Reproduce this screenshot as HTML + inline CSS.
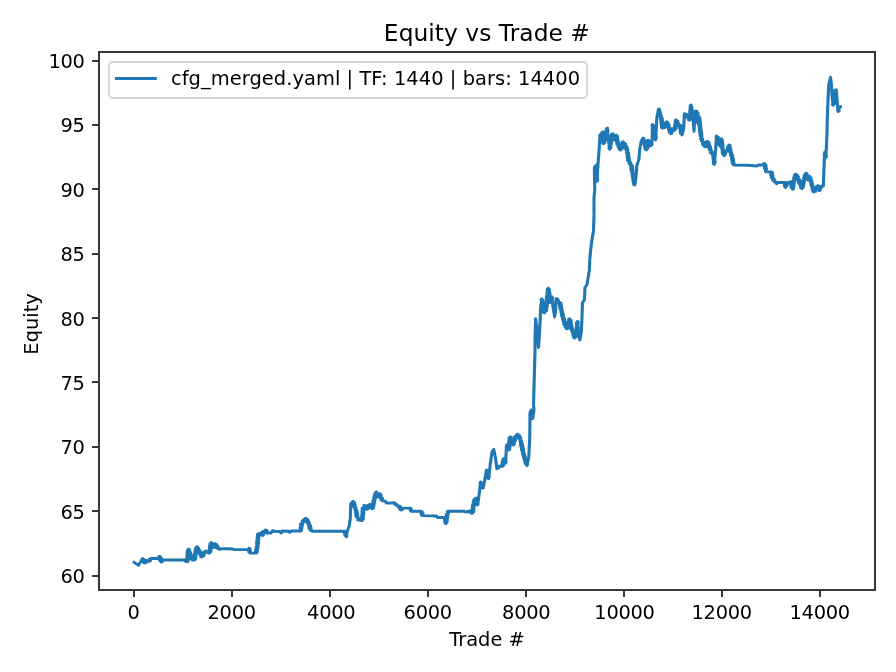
<!DOCTYPE html>
<html lang="en"><head><meta charset="utf-8"><title>Equity vs Trade #</title>
<style>
html,body{margin:0;padding:0;background:#fff;}
body{width:896px;height:672px;overflow:hidden;}
svg{display:block;}
text{font-family:"DejaVu Sans", "Liberation Sans", sans-serif;fill:#000;}
.t10{font-size:19.444px;}
.tk{letter-spacing:-0.3px;}
.t12{font-size:23.333px;}
</style></head>
<body>
<svg width="896" height="672" viewBox="0 0 896 672">
<rect x="0" y="0" width="896" height="672" fill="#ffffff"/>
<clipPath id="ax"><rect x="99" y="52" width="776" height="538"/></clipPath>
<path d="M134.19 562.31 L134.91 562.83 L135.62 563.35 L136.34 563.88 L137.06 564.40 L137.78 564.92 L138.50 565.44 L138.91 564.74 L139.31 564.04 L139.72 563.34 L140.12 562.64 L140.53 561.94 L140.94 561.24 L141.34 560.54 L141.75 559.84 L142.16 559.14 L142.56 558.44 L142.01 559.65 L144.19 559.58 L142.90 561.13 L144.91 561.15 L143.57 562.72 L144.75 563.12 L144.58 561.87 L146.54 562.39 L145.61 560.51 L146.94 560.50 L147.54 561.45 L148.81 560.48 L149.44 561.38 L150.51 560.68 L149.57 559.12 L150.69 558.44 L158.50 558.44 L159.75 558.30 L158.84 556.53 L160.06 556.38 L159.28 557.34 L161.40 557.82 L159.39 558.99 L161.59 559.46 L159.67 560.61 L161.91 561.08 L161.00 562.06 L162.21 561.86 L161.11 560.25 L162.25 560.00 L185.62 560.00 L185.41 561.28 L187.45 560.61 L187.25 561.88 L188.24 561.15 L186.51 560.19 L188.39 559.54 L186.58 558.57 L188.50 557.93 L186.77 556.97 L188.69 556.32 L186.75 555.35 L188.87 554.72 L187.05 553.75 L188.92 553.10 L187.15 552.14 L189.04 551.49 L187.36 550.53 L189.27 549.89 L188.38 549.00 L189.43 549.53 L187.96 550.86 L190.01 551.08 L188.40 552.45 L190.61 552.62 L188.91 554.02 L191.09 554.19 L189.49 555.57 L191.59 555.77 L190.00 557.14 L192.06 557.34 L190.50 558.71 L192.53 558.93 L191.88 560.00 L194.38 560.00 L195.34 559.31 L193.76 558.22 L195.85 557.71 L194.03 556.58 L196.04 556.06 L194.18 554.92 L196.32 554.42 L194.49 553.28 L196.55 552.78 L194.87 551.66 L196.67 551.11 L195.10 550.02 L196.96 549.47 L195.39 548.38 L197.22 547.83 L196.50 546.88 L197.77 547.06 L196.63 548.74 L198.74 548.41 L197.39 550.22 L199.51 549.88 L198.26 551.63 L200.32 551.32 L200.00 552.50 L199.38 553.70 L201.66 553.50 L200.14 555.14 L202.28 555.00 L200.82 556.61 L202.12 556.88 L201.62 555.60 L203.84 555.73 L202.40 553.97 L204.66 554.12 L203.35 552.44 L205.46 552.50 L205.00 551.25 L207.50 551.25 L208.81 551.20 L208.44 553.17 L209.75 553.12 L208.83 552.19 L210.98 551.61 L208.95 550.55 L211.19 549.98 L209.26 548.92 L211.17 548.32 L209.47 547.29 L211.59 546.71 L209.58 545.65 L211.66 545.06 L209.86 544.02 L211.78 543.42 L211.00 542.50 L212.12 543.04 L210.79 544.45 L212.89 544.65 L211.22 546.16 L213.27 546.38 L212.75 547.50 L214.03 547.27 L213.05 545.53 L214.98 545.74 L213.90 543.93 L215.25 543.75 L214.79 544.96 L216.90 544.70 L215.70 546.34 L217.76 546.11 L216.36 547.86 L218.53 547.56 L218.12 548.75 L220.00 549.38 L221.25 548.75 L228.00 548.75 L228.00 548.75 L233.00 549.00 L234.25 549.62 L248.00 549.38 L249.16 549.28 L249.00 548.12 L249.97 548.81 L248.46 549.94 L250.51 550.44 L248.62 551.63 L250.77 552.11 L249.88 553.12 L256.12 553.12 L257.11 552.45 L255.49 551.36 L257.50 550.84 L255.57 549.71 L257.66 549.20 L256.04 548.12 L258.05 547.60 L256.23 546.49 L258.27 545.97 L257.38 545.00 L256.58 544.12 L258.53 543.48 L256.54 542.50 L258.68 541.88 L256.81 540.90 L258.82 540.27 L257.02 539.30 L258.85 538.65 L257.08 537.68 L259.15 537.06 L257.30 536.08 L259.29 535.45 L257.26 534.46 L258.38 533.75 L261.12 533.12 L260.56 534.45 L262.79 534.38 L262.38 535.62 L263.47 534.99 L262.02 533.63 L264.14 533.29 L262.33 531.83 L263.62 531.25 L265.13 531.47 L265.50 530.00 L266.58 530.16 L265.95 531.69 L267.64 531.36 L266.85 533.02 L268.00 533.12 L271.12 533.12 L271.22 532.00 L272.67 531.76 L272.75 530.62 L274.88 531.25 L279.25 531.50 L280.46 531.92 L280.88 533.12 L281.83 532.74 L281.48 531.43 L282.38 531.00 L288.62 531.25 L289.22 531.98 L290.12 532.25 L290.39 531.44 L291.12 531.00 L300.50 531.00 L301.60 530.28 L299.94 529.12 L301.96 528.54 L300.10 527.35 L302.22 526.79 L300.46 525.61 L302.55 525.05 L300.59 523.84 L301.75 523.12 L303.04 523.10 L302.21 521.06 L304.36 521.84 L303.48 519.76 L305.48 520.40 L304.89 518.58 L306.12 518.50 L305.61 519.72 L307.71 519.54 L306.44 521.16 L308.45 521.03 L307.11 522.69 L309.32 522.45 L307.93 524.14 L309.25 524.38 L310.26 524.96 L308.69 526.16 L310.63 526.52 L308.96 527.75 L311.11 528.06 L309.55 529.26 L311.39 529.65 L310.75 530.62 L313.00 531.25 L336.00 531.25 L336.00 531.25 L344.75 531.25 L344.02 532.30 L346.00 532.64 L344.55 533.89 L346.52 534.22 L344.89 535.52 L346.99 535.82 L346.25 536.88 L346.59 536.11 L346.35 535.24 L346.87 534.50 L346.65 533.63 L347.14 532.89 L346.90 532.02 L347.25 531.25 L347.72 530.48 L347.71 529.52 L348.35 528.81 L348.32 527.85 L348.97 527.14 L349.12 526.25 L349.07 525.43 L349.54 524.69 L349.29 523.84 L349.78 523.10 L349.49 522.24 L350.00 521.51 L349.72 520.65 L350.22 519.91 L349.98 519.07 L350.45 518.32 L350.38 517.50 L350.21 516.69 L350.62 515.89 L350.27 515.07 L350.64 514.27 L350.28 513.45 L350.69 512.65 L350.34 511.83 L350.77 511.04 L350.39 510.22 L350.77 509.42 L350.41 508.60 L350.84 507.80 L350.46 506.98 L350.85 506.18 L350.52 505.36 L350.89 504.56 L350.75 503.75 L351.25 503.00 L352.14 502.64 L352.51 501.76 L353.25 501.25 L352.56 502.24 L354.69 502.56 L352.75 503.85 L354.93 504.15 L353.19 505.40 L355.35 505.70 L353.64 506.94 L354.75 507.50 L356.12 507.86 L354.80 509.56 L356.00 510.00 L357.18 510.66 L355.45 511.80 L357.47 512.33 L355.56 513.50 L357.63 514.01 L355.84 515.17 L357.91 515.68 L356.09 516.84 L357.25 517.50 L358.56 517.82 L357.73 519.75 L359.12 520.00 L362.25 520.62 L361.25 519.72 L363.45 519.07 L361.55 518.10 L363.39 517.41 L361.49 516.44 L363.54 515.77 L361.85 514.82 L363.77 514.14 L361.88 513.17 L363.90 512.50 L361.98 511.53 L363.96 510.85 L362.13 509.89 L364.03 509.21 L362.12 508.24 L363.25 507.50 L364.63 507.63 L363.98 505.47 L365.38 505.62 L364.67 506.90 L366.85 507.22 L365.29 508.78 L366.62 509.38 L366.17 508.10 L368.34 508.46 L367.13 506.71 L369.14 506.97 L367.98 505.26 L370.04 505.55 L369.75 504.38 L371.01 504.62 L369.84 506.26 L371.73 506.14 L370.55 507.78 L372.67 507.54 L372.25 508.75 L373.41 508.17 L371.57 506.94 L373.83 506.59 L372.10 505.39 L374.08 504.98 L372.31 503.77 L374.42 503.39 L372.66 502.18 L374.74 501.80 L372.91 500.57 L374.12 500.00 L375.24 499.40 L373.55 498.16 L375.68 497.79 L374.05 496.56 L375.98 496.15 L374.42 494.93 L376.28 494.51 L374.82 493.31 L376.67 492.89 L376.00 491.88 L377.07 492.49 L375.48 493.78 L377.58 494.14 L375.81 495.46 L377.97 495.81 L377.25 496.88 L378.68 496.72 L377.62 494.77 L379.77 495.13 L379.50 493.75 L380.76 494.11 L379.35 495.74 L381.44 495.70 L381.00 496.88 L380.29 498.15 L382.61 498.42 L381.12 499.96 L382.25 500.62 L384.75 501.25 L385.86 501.51 L386.11 502.91 L387.25 503.12 L394.12 502.75 L395.20 503.07 L394.88 504.62 L396.56 504.42 L396.62 505.62 L398.50 505.62 L398.34 506.84 L400.38 506.48 L399.26 508.38 L401.42 507.95 L400.31 509.84 L401.62 510.00 L401.89 509.02 L403.18 509.06 L403.50 508.12 L410.38 508.12 L411.34 509.02 L410.15 510.34 L411.00 511.25 L421.00 511.25 L422.27 511.74 L420.89 513.37 L423.13 513.44 L421.50 515.18 L422.88 515.62 L436.00 516.00 L436.83 516.25 L437.05 517.24 L437.88 517.50 L440.00 517.50 L440.00 517.50 L445.00 517.50 L445.99 518.26 L444.42 519.42 L446.44 520.02 L444.61 521.23 L446.67 521.81 L444.92 523.01 L446.00 523.75 L445.28 522.81 L447.13 522.20 L445.22 521.11 L447.46 520.55 L445.55 519.46 L447.50 518.86 L445.66 517.78 L447.77 517.20 L445.95 516.13 L447.92 515.53 L446.24 514.47 L447.25 513.75 L448.54 513.39 L447.45 511.60 L448.75 511.25 L464.38 511.25 L465.24 511.85 L466.25 512.12 L467.11 511.57 L468.20 511.80 L468.98 511.01 L470.00 511.00 L470.08 512.32 L472.00 511.26 L471.51 513.31 L472.75 513.12 L471.93 512.22 L473.93 511.59 L472.05 510.59 L473.92 509.94 L472.07 508.94 L474.04 508.30 L472.22 507.30 L474.27 506.67 L472.52 505.68 L474.61 505.05 L472.66 504.05 L474.69 503.41 L473.75 502.50 L473.26 501.26 L475.49 501.17 L473.93 499.47 L476.13 499.38 L475.62 498.12 L476.68 498.76 L475.20 500.09 L477.25 500.45 L475.69 501.80 L477.73 502.17 L476.18 503.51 L478.19 503.89 L477.50 505.00 L477.82 504.20 L477.55 503.30 L478.08 502.53 L477.80 501.64 L478.31 500.86 L478.06 499.97 L478.59 499.20 L478.32 498.31 L478.83 497.53 L478.53 496.63 L479.09 495.87 L478.81 494.97 L479.30 494.19 L479.05 493.30 L479.38 492.50 L479.67 491.71 L479.37 490.84 L479.85 490.07 L479.57 489.21 L480.02 488.43 L479.77 487.58 L480.22 486.80 L479.94 485.94 L480.46 485.17 L480.16 484.31 L480.60 483.53 L480.32 482.67 L480.62 481.88 L480.08 483.00 L482.15 483.08 L480.78 484.53 L482.69 484.68 L481.24 486.16 L483.42 486.19 L481.83 487.74 L483.12 488.12 L483.08 487.23 L483.65 486.46 L483.44 485.53 L483.99 484.75 L483.79 483.83 L484.33 483.05 L484.10 482.12 L484.68 481.35 L484.49 480.42 L485.03 479.64 L485.00 478.75 L484.92 477.92 L485.48 477.20 L485.22 476.33 L485.71 475.60 L485.48 474.74 L486.03 474.01 L485.75 473.15 L486.28 472.42 L486.04 471.56 L486.57 470.83 L486.50 470.00 L487.53 470.58 L485.90 471.85 L488.05 472.15 L486.50 473.39 L488.54 473.72 L486.82 475.01 L488.76 475.36 L487.29 476.58 L489.37 476.89 L487.70 478.17 L488.75 478.75 L488.63 477.90 L489.12 477.10 L488.83 476.23 L489.27 475.44 L488.96 474.56 L489.44 473.77 L489.12 472.90 L489.60 472.10 L489.30 471.23 L489.76 470.43 L489.46 469.56 L489.96 468.77 L489.64 467.90 L490.10 467.10 L490.00 466.25 L489.93 465.42 L490.42 464.66 L490.16 463.80 L490.63 463.04 L490.37 462.18 L490.84 461.42 L490.59 460.56 L491.09 459.81 L490.82 458.95 L491.28 458.19 L491.04 457.33 L491.49 456.57 L491.25 455.71 L491.75 454.96 L491.44 454.09 L491.95 453.33 L491.88 452.50 L492.18 451.62 L492.99 451.05 L493.11 450.06 L493.75 449.38 L493.73 450.27 L494.29 451.04 L494.10 451.97 L494.64 452.74 L494.43 453.67 L494.96 454.45 L494.73 455.38 L495.31 456.15 L495.10 457.08 L495.66 457.86 L495.62 458.75 L495.52 459.61 L496.03 460.39 L495.77 461.27 L496.25 462.06 L495.98 462.94 L496.45 463.72 L496.14 464.61 L496.63 465.40 L496.37 466.27 L496.87 467.06 L496.60 467.94 L496.88 468.75 L496.87 467.49 L498.72 468.10 L498.14 466.26 L499.38 466.25 L502.50 466.25 L503.48 465.56 L501.89 464.43 L503.93 463.92 L502.05 462.75 L504.22 462.25 L502.34 461.08 L504.50 460.59 L502.76 459.44 L503.75 458.75 L503.23 460.01 L505.26 460.17 L503.99 461.75 L506.22 461.83 L505.62 463.12 L505.86 462.31 L505.52 461.47 L505.92 460.66 L505.60 459.82 L506.04 459.02 L505.65 458.17 L506.11 457.37 L505.72 456.52 L506.19 455.72 L505.84 454.88 L506.25 454.07 L505.90 453.23 L506.35 452.42 L505.98 451.58 L506.41 450.78 L506.09 449.93 L506.52 449.13 L506.16 448.29 L506.60 447.48 L506.25 446.64 L506.68 445.83 L506.50 445.00 L507.72 445.45 L506.29 447.10 L508.38 447.16 L507.14 448.72 L509.19 448.80 L508.75 450.00 L509.84 449.28 L507.90 448.26 L509.93 447.63 L508.05 446.62 L510.23 446.00 L508.37 445.00 L510.27 444.35 L508.37 443.34 L510.45 442.71 L508.64 441.71 L510.67 441.08 L508.80 440.07 L510.82 439.44 L508.89 438.43 L510.78 437.78 L510.00 436.88 L511.29 437.31 L509.83 438.80 L511.91 438.94 L510.33 440.48 L512.56 440.55 L510.90 442.13 L513.06 442.23 L511.70 443.68 L513.65 443.87 L513.12 445.00 L514.15 444.43 L512.61 443.13 L514.62 442.85 L513.19 441.58 L515.12 441.27 L513.59 439.97 L515.69 439.71 L514.03 438.38 L516.10 438.11 L514.58 436.81 L515.62 436.25 L517.01 436.36 L516.76 434.29 L518.12 434.38 L517.54 435.60 L519.60 435.65 L518.29 437.19 L520.48 437.18 L519.03 438.78 L521.03 438.86 L520.62 440.00 L519.91 441.01 L521.83 441.49 L520.24 442.68 L522.17 443.16 L520.39 444.38 L522.65 444.80 L520.74 446.04 L522.96 446.47 L521.22 447.68 L523.35 448.12 L521.52 449.35 L523.48 449.83 L521.79 451.03 L523.84 451.49 L523.12 452.50 L522.33 453.56 L524.56 453.76 L522.92 455.06 L524.92 455.33 L523.25 456.64 L525.42 456.86 L523.74 458.17 L525.74 458.43 L524.23 459.70 L526.31 459.94 L524.64 461.25 L526.76 461.48 L525.02 462.82 L527.10 463.06 L525.61 464.32 L527.63 464.57 L526.88 465.62 L527.24 464.85 L527.06 463.96 L527.60 463.23 L527.46 462.34 L528.00 461.60 L527.80 460.70 L528.35 459.98 L528.17 459.08 L528.77 458.36 L528.75 457.50 L528.59 456.69 L529.04 455.91 L528.69 455.09 L529.08 454.31 L528.77 453.49 L529.16 452.71 L528.84 451.89 L529.28 451.11 L528.93 450.29 L529.36 449.51 L529.00 448.69 L529.40 447.91 L529.07 447.09 L529.50 446.31 L529.17 445.49 L529.58 444.71 L529.21 443.89 L529.68 443.11 L529.33 442.29 L529.77 441.51 L529.42 440.69 L529.82 439.91 L529.48 439.09 L529.93 438.31 L529.75 437.50 L529.59 436.69 L529.97 435.89 L529.58 435.08 L529.96 434.28 L529.59 433.47 L530.01 432.66 L529.60 431.85 L529.98 431.05 L529.61 430.24 L530.01 429.44 L529.63 428.63 L530.04 427.82 L529.69 427.01 L530.07 426.21 L529.67 425.40 L530.07 424.60 L529.69 423.79 L530.08 422.99 L529.74 422.18 L530.13 421.37 L529.74 420.56 L530.11 419.76 L529.77 418.95 L530.15 418.15 L529.74 417.34 L530.15 416.53 L529.76 415.72 L530.16 414.92 L529.80 414.11 L530.17 413.31 L530.00 412.50 L530.25 411.59 L531.01 410.92 L531.25 410.00 L532.27 410.67 L530.64 411.71 L532.60 412.24 L530.80 413.31 L532.74 413.85 L531.06 414.90 L532.88 415.45 L531.16 416.51 L533.20 417.03 L531.32 418.11 L532.50 418.75 L532.47 417.93 L532.98 417.19 L532.75 416.34 L533.22 415.60 L533.02 414.74 L533.51 414.01 L533.27 413.15 L533.77 412.42 L533.51 411.55 L534.06 410.83 L534.00 410.00 L533.70 409.19 L534.05 408.31 L533.57 407.52 L533.87 406.65 L533.41 405.85 L533.50 405.00 L533.71 404.20 L533.34 403.39 L533.76 402.60 L533.42 401.79 L533.78 400.99 L533.43 400.18 L533.86 399.39 L533.48 398.58 L533.88 397.78 L533.52 396.97 L533.94 396.18 L533.60 395.37 L533.97 394.58 L533.61 393.76 L534.05 392.97 L533.66 392.16 L534.06 391.37 L533.70 390.55 L534.10 389.76 L533.75 388.95 L534.16 388.16 L533.83 387.35 L534.21 386.55 L533.84 385.74 L534.27 384.95 L533.88 384.14 L534.29 383.34 L533.93 382.53 L534.33 381.74 L533.97 380.93 L534.39 380.14 L534.02 379.32 L534.41 378.53 L534.06 377.72 L534.48 376.93 L534.10 376.11 L534.50 375.32 L534.15 374.51 L534.59 373.72 L534.20 372.90 L534.59 372.11 L534.22 371.30 L534.66 370.51 L534.30 369.70 L534.71 368.90 L534.32 368.09 L534.72 367.30 L534.38 366.49 L534.80 365.70 L534.40 364.88 L534.81 364.09 L534.47 363.28 L534.89 362.49 L534.51 361.67 L534.94 360.88 L534.55 360.07 L534.98 359.28 L534.60 358.46 L534.99 357.67 L534.63 356.86 L535.06 356.07 L534.72 355.26 L535.12 354.46 L534.73 353.65 L535.16 352.86 L534.81 352.05 L535.00 351.25 L535.20 350.45 L534.82 349.64 L535.21 348.84 L534.83 348.04 L535.18 347.23 L534.83 346.43 L535.17 345.62 L534.82 344.82 L535.20 344.02 L534.81 343.21 L535.18 342.41 L534.78 341.61 L535.20 340.80 L535.00 340.00 L534.81 339.18 L535.23 338.37 L534.90 337.54 L535.31 336.74 L534.95 335.91 L535.35 335.10 L534.95 334.27 L535.40 333.47 L535.02 332.64 L535.43 331.83 L535.08 331.00 L535.46 330.20 L535.13 329.37 L535.53 328.56 L535.18 327.74 L535.60 326.93 L535.19 326.10 L535.61 325.29 L535.26 324.47 L535.69 323.66 L535.31 322.83 L535.71 322.02 L535.34 321.20 L535.77 320.39 L535.40 319.56 L535.62 318.75 L535.52 319.61 L536.01 320.39 L535.74 321.28 L536.22 322.06 L535.95 322.94 L536.43 323.73 L536.15 324.61 L536.64 325.39 L536.35 326.28 L536.84 327.06 L536.57 327.94 L536.88 328.75 L537.16 329.55 L536.80 330.40 L537.28 331.18 L536.96 332.03 L537.41 332.81 L537.09 333.66 L537.58 334.44 L537.25 335.29 L537.70 336.07 L537.37 336.92 L537.85 337.70 L537.55 338.55 L537.96 339.33 L537.66 340.18 L538.13 340.96 L537.81 341.81 L538.26 342.59 L537.98 343.44 L538.43 344.22 L538.10 345.07 L538.55 345.85 L538.24 346.70 L538.50 347.50 L538.39 346.65 L538.84 345.85 L538.46 344.98 L538.90 344.18 L538.63 343.32 L539.04 342.51 L538.70 341.65 L539.17 340.85 L538.82 339.98 L539.28 339.18 L538.96 338.32 L539.42 337.52 L539.07 336.65 L539.51 335.85 L539.20 334.99 L539.65 334.18 L539.33 333.32 L539.75 332.51 L539.45 331.65 L539.90 330.85 L539.75 330.00 L539.60 329.19 L539.99 328.40 L539.66 327.58 L540.09 326.79 L539.69 325.97 L540.13 325.19 L539.79 324.37 L540.19 323.58 L539.82 322.76 L540.26 321.97 L539.88 321.15 L540.34 320.37 L539.95 319.55 L540.40 318.76 L540.03 317.94 L540.42 317.15 L540.07 316.33 L540.53 315.54 L540.14 314.72 L540.55 313.94 L540.19 313.12 L540.65 312.33 L540.25 311.51 L540.70 310.72 L540.31 309.90 L540.74 309.11 L540.40 308.30 L540.62 307.50 L540.96 306.74 L540.63 305.88 L541.17 305.14 L540.88 304.29 L541.39 303.55 L541.12 302.70 L541.60 301.96 L541.32 301.11 L541.84 300.37 L541.58 299.52 L541.88 298.75 L541.06 299.67 L542.93 300.27 L541.29 301.28 L543.26 301.87 L541.46 302.90 L543.35 303.50 L541.49 304.54 L543.48 305.12 L541.66 306.16 L543.76 306.73 L541.88 307.77 L544.07 308.33 L542.11 309.38 L544.05 309.97 L542.31 311.00 L544.35 311.58 L543.50 312.50 L544.67 312.87 L544.43 310.83 L545.62 311.25 L546.73 310.54 L544.91 309.47 L546.87 308.87 L545.16 307.81 L547.01 307.19 L545.26 306.13 L547.44 305.55 L545.61 304.48 L547.56 303.87 L545.68 302.79 L547.79 302.21 L546.88 301.25 L546.06 300.33 L547.95 299.71 L546.26 298.69 L548.30 298.09 L546.29 297.03 L548.48 296.45 L546.64 295.41 L548.55 294.79 L546.82 293.76 L548.82 293.16 L547.02 292.13 L549.02 291.52 L547.06 290.47 L549.15 289.88 L547.41 288.85 L548.38 288.12 L547.57 289.02 L549.53 289.61 L547.63 290.64 L549.61 291.22 L547.83 292.23 L549.98 292.80 L547.99 293.83 L550.16 294.39 L548.11 295.43 L550.17 296.01 L548.49 297.01 L550.52 297.59 L548.62 298.61 L550.49 299.21 L548.74 300.22 L550.77 300.80 L549.04 301.80 L550.00 302.50 L549.25 301.36 L551.44 301.20 L549.76 299.74 L551.93 299.57 L550.54 298.22 L552.63 298.02 L551.88 296.88 L552.15 297.67 L551.85 298.53 L552.35 299.30 L552.06 300.17 L552.53 300.94 L552.27 301.80 L552.75 302.57 L552.43 303.44 L552.95 304.21 L552.62 305.07 L553.14 305.84 L552.81 306.71 L553.12 307.50 L553.44 308.32 L553.23 309.23 L553.71 310.03 L553.48 310.94 L553.99 311.73 L553.78 312.64 L554.25 313.44 L554.04 314.35 L554.53 315.14 L554.31 316.05 L554.62 316.88 L554.57 316.04 L555.11 315.30 L554.85 314.43 L555.38 313.69 L555.13 312.82 L555.67 312.09 L555.62 311.25 L555.46 310.41 L555.86 309.59 L555.49 308.74 L555.93 307.92 L555.56 307.08 L555.96 306.26 L555.63 305.41 L556.00 304.59 L555.68 303.74 L556.06 302.92 L555.72 302.08 L556.13 301.26 L555.74 300.41 L556.17 299.59 L556.00 298.75 L557.26 298.75 L556.36 300.60 L558.42 299.92 L558.12 301.25 L558.45 302.79 L560.00 302.50 L561.13 303.17 L559.23 304.34 L561.33 304.85 L559.58 306.00 L561.61 306.51 L559.76 307.68 L561.95 308.17 L560.05 309.34 L561.25 310.00 L562.42 310.59 L560.84 311.87 L562.76 312.28 L561.12 313.57 L563.34 313.91 L561.52 315.24 L563.60 315.61 L561.94 316.91 L563.12 317.50 L564.30 318.09 L562.48 319.43 L564.71 319.76 L563.16 321.03 L565.23 321.40 L563.54 322.71 L565.48 323.11 L563.73 324.43 L565.00 325.00 L566.34 325.19 L565.16 327.06 L567.29 326.73 L566.22 328.52 L567.50 328.75 L566.80 327.72 L568.88 327.31 L567.16 326.05 L569.09 325.61 L567.58 324.39 L569.47 323.94 L567.77 322.68 L569.88 322.28 L568.32 321.05 L570.36 320.64 L568.68 319.38 L569.75 318.75 L568.86 319.72 L571.02 320.17 L569.19 321.30 L571.24 321.77 L569.52 322.88 L571.50 323.36 L569.70 324.49 L571.67 324.97 L570.10 326.06 L572.12 326.53 L571.25 327.50 L570.61 328.69 L572.79 328.82 L571.35 330.31 L573.33 330.52 L571.90 332.01 L573.12 332.50 L574.24 333.02 L572.69 334.43 L574.91 334.58 L573.23 336.04 L575.41 336.20 L573.72 337.66 L575.00 338.12 L574.24 337.09 L576.25 336.70 L574.69 335.49 L576.58 335.07 L574.97 333.84 L577.13 333.48 L575.35 332.21 L577.34 331.82 L575.70 330.58 L576.88 330.00 L577.96 329.20 L576.08 328.18 L578.04 327.44 L576.28 326.44 L578.17 325.70 L576.42 324.69 L578.23 323.94 L576.33 322.93 L578.43 322.20 L577.50 321.25 L577.76 322.04 L577.43 322.88 L577.91 323.64 L577.57 324.48 L578.05 325.25 L577.73 326.09 L578.20 326.86 L577.90 327.69 L578.31 328.47 L578.04 329.30 L578.46 330.07 L578.14 330.91 L578.63 331.68 L578.50 332.50 L578.44 333.37 L578.99 334.13 L578.74 335.03 L579.26 335.80 L579.00 336.70 L579.52 337.47 L579.27 338.37 L579.82 339.13 L579.75 340.00 L580.11 339.21 L579.88 338.29 L580.46 337.54 L580.24 336.63 L580.79 335.87 L580.56 334.96 L581.13 334.21 L580.88 333.29 L581.25 332.50 L581.49 331.68 L581.11 330.82 L581.57 330.01 L581.24 329.16 L581.65 328.34 L581.31 327.49 L581.76 326.68 L581.41 325.82 L581.82 325.01 L581.47 324.16 L581.88 323.34 L581.55 322.49 L581.99 321.68 L581.64 320.82 L581.88 320.00 L582.12 319.17 L581.76 318.33 L582.16 317.51 L581.81 316.66 L582.22 315.84 L581.87 314.99 L582.29 314.17 L581.90 313.33 L582.31 312.51 L581.98 311.66 L582.41 310.84 L582.05 309.99 L582.45 309.17 L582.07 308.33 L582.49 307.51 L582.15 306.66 L582.58 305.84 L582.21 304.99 L582.61 304.17 L582.25 303.33 L582.50 302.50 L583.26 301.77 L583.62 300.73 L584.38 300.00 L584.61 299.18 L584.29 298.32 L584.68 297.51 L584.33 296.66 L584.78 295.84 L584.43 294.99 L584.88 294.18 L584.54 293.32 L584.97 292.51 L584.59 291.66 L585.04 290.84 L584.71 289.99 L585.13 289.18 L584.77 288.32 L585.00 287.50 L585.77 286.78 L586.09 285.71 L586.88 285.00 L587.20 284.20 L586.94 283.30 L587.50 282.54 L587.25 281.64 L587.74 280.86 L587.52 279.97 L588.06 279.20 L587.81 278.30 L588.12 277.50 L588.45 276.70 L588.23 275.80 L588.73 275.03 L588.47 274.13 L589.00 273.36 L588.79 272.47 L589.29 271.70 L589.03 270.80 L589.38 270.00 L589.59 269.17 L589.27 268.33 L589.65 267.51 L589.29 266.66 L589.72 265.84 L589.40 264.99 L589.80 264.17 L589.45 263.33 L589.85 262.51 L589.50 261.66 L589.89 260.84 L589.75 260.00 L589.64 259.15 L590.07 258.35 L589.77 257.48 L590.21 256.68 L589.90 255.81 L590.40 255.02 L590.06 254.15 L590.51 253.35 L590.19 252.48 L590.70 251.69 L590.38 250.82 L590.62 250.00 L590.91 249.19 L590.66 248.31 L591.12 247.52 L590.83 246.64 L591.36 245.86 L591.06 244.98 L591.54 244.19 L591.25 243.31 L591.77 242.53 L591.48 241.64 L591.96 240.86 L591.88 240.00 L591.84 239.17 L592.36 238.44 L592.13 237.58 L592.63 236.85 L592.40 235.98 L592.95 235.26 L592.71 234.39 L593.24 233.67 L593.00 232.80 L593.53 232.08 L593.50 231.25 L593.31 230.43 L593.77 229.63 L593.40 228.81 L593.79 228.01 L593.46 227.18 L593.86 226.38 L593.48 225.56 L593.87 224.76 L593.51 223.93 L593.97 223.13 L593.59 222.31 L594.01 221.51 L593.66 220.68 L594.05 219.88 L593.69 219.06 L594.07 218.26 L593.74 217.43 L594.14 216.63 L593.81 215.81 L594.00 215.00 L594.21 214.17 L593.81 213.33 L594.19 212.50 L593.78 211.67 L594.22 210.83 L593.80 210.00 L594.20 209.17 L593.79 208.33 L594.20 207.50 L593.80 206.67 L594.21 205.83 L593.83 205.00 L594.22 204.17 L593.82 203.33 L594.18 202.50 L593.80 201.67 L594.20 200.83 L593.80 200.00 L594.21 199.17 L593.83 198.33 L594.00 197.50 L594.26 196.68 L593.99 195.82 L594.44 195.02 L594.15 194.15 L594.62 193.35 L594.31 192.48 L594.75 191.68 L594.46 190.81 L594.75 190.00 L594.93 189.19 L594.54 188.40 L594.89 187.59 L594.48 186.79 L594.88 185.98 L594.50 185.18 L594.84 184.37 L594.42 183.58 L594.81 182.76 L594.44 181.97 L594.77 181.16 L594.42 180.36 L594.74 179.55 L594.37 178.75 L594.76 177.94 L594.32 177.15 L594.74 176.34 L594.32 175.54 L594.70 174.73 L594.31 173.93 L594.68 173.12 L594.28 172.32 L594.64 171.51 L594.25 170.72 L594.61 169.91 L594.21 169.11 L594.59 168.30 L594.38 167.50 L594.85 166.56 L595.77 165.94 L596.25 165.00 L597.26 165.77 L595.28 166.66 L597.27 167.40 L595.29 168.29 L597.35 169.03 L595.51 169.91 L597.40 170.65 L595.41 171.54 L597.44 172.28 L595.57 173.16 L597.56 173.90 L595.53 174.79 L597.49 175.53 L595.59 176.42 L597.64 177.15 L595.70 178.04 L597.66 178.78 L595.79 179.66 L597.76 180.40 L596.88 181.25 L597.10 180.45 L596.81 179.61 L597.21 178.82 L596.88 177.97 L597.34 177.19 L597.02 176.35 L597.46 175.56 L597.12 174.72 L597.57 173.93 L597.24 173.09 L597.65 172.29 L597.35 171.46 L597.76 170.66 L597.45 169.82 L597.89 169.04 L597.56 168.19 L597.98 167.40 L597.68 166.56 L598.09 165.77 L597.77 164.93 L598.19 164.14 L597.86 163.30 L598.12 162.50 L598.40 161.70 L598.05 160.86 L598.49 160.08 L598.16 159.23 L598.61 158.45 L598.33 157.61 L598.77 156.83 L598.42 155.98 L598.87 155.20 L598.58 154.36 L599.01 153.58 L598.69 152.74 L599.15 151.95 L598.83 151.11 L599.26 150.33 L598.95 149.49 L599.40 148.70 L599.03 147.86 L599.51 147.08 L599.38 146.25 L599.22 145.44 L599.68 144.65 L599.29 143.83 L599.72 143.05 L599.42 142.22 L599.85 141.44 L599.51 140.62 L599.92 139.83 L599.56 139.01 L600.01 138.22 L599.67 137.40 L600.09 136.62 L599.78 135.79 L600.00 135.00 L600.71 134.52 L600.94 133.61 L601.78 133.24 L602.04 132.36 L602.75 131.88 L601.75 132.81 L603.80 133.49 L601.90 134.51 L603.89 135.20 L602.22 136.19 L604.24 136.87 L602.28 137.89 L604.26 138.58 L602.49 139.59 L604.35 140.28 L602.67 141.28 L604.55 141.97 L602.72 142.98 L603.75 143.75 L603.09 142.78 L605.09 142.37 L603.43 141.19 L605.28 140.75 L603.56 139.55 L605.68 139.17 L604.10 138.00 L606.03 137.58 L604.43 136.41 L606.29 135.98 L605.62 135.00 L604.80 133.85 L606.91 133.50 L605.33 132.15 L607.48 131.81 L605.94 130.47 L608.06 130.12 L606.33 128.73 L607.50 128.12 L607.39 128.99 L607.80 129.82 L607.47 130.70 L607.92 131.52 L607.60 132.40 L608.02 133.23 L607.72 134.10 L608.15 134.93 L607.79 135.81 L608.28 136.63 L608.12 137.50 L608.05 138.37 L608.57 139.17 L608.30 140.07 L608.79 140.87 L608.50 141.77 L609.00 142.56 L608.74 143.46 L609.25 144.26 L609.00 145.16 L609.50 145.95 L609.22 146.86 L609.71 147.65 L609.47 148.55 L609.75 149.38 L608.90 148.41 L610.90 147.80 L609.01 146.70 L611.02 146.09 L609.23 145.00 L611.26 144.40 L609.45 143.31 L611.63 142.72 L609.73 141.62 L611.74 141.01 L609.99 139.93 L612.04 139.32 L610.22 138.23 L611.25 137.50 L612.33 137.06 L610.90 135.62 L613.10 135.63 L611.61 134.16 L612.75 133.75 L612.10 134.75 L614.19 135.04 L612.47 136.33 L614.38 136.66 L612.74 137.92 L614.83 138.21 L613.27 139.45 L614.38 140.00 L613.77 138.82 L615.89 138.67 L614.48 137.19 L616.46 136.98 L615.04 135.49 L616.25 135.00 L615.56 135.99 L617.62 136.47 L615.84 137.67 L617.73 138.17 L616.17 139.33 L618.05 139.84 L616.29 141.03 L618.43 141.49 L616.64 142.69 L618.85 143.14 L617.13 144.32 L618.12 145.00 L619.40 145.22 L618.04 146.95 L620.13 146.70 L618.83 148.40 L621.02 148.09 L619.75 149.77 L621.00 150.00 L620.15 148.91 L622.27 148.60 L620.59 147.29 L622.72 146.98 L621.12 145.69 L623.09 145.34 L621.59 144.08 L623.56 143.73 L621.91 142.42 L623.12 141.88 L622.59 143.15 L624.71 142.90 L623.64 144.48 L625.67 144.29 L624.26 146.06 L625.62 146.25 L626.96 146.70 L625.26 148.29 L627.52 148.39 L625.95 149.93 L627.96 150.13 L627.50 151.25 L626.53 152.22 L628.68 152.79 L626.87 153.87 L628.74 154.48 L627.15 155.52 L629.04 156.14 L627.15 157.22 L629.33 157.79 L627.43 158.88 L629.46 159.47 L627.63 160.54 L628.75 161.25 L629.98 161.51 L629.00 163.25 L631.06 162.96 L630.02 164.73 L631.25 165.00 L632.44 165.66 L630.65 166.81 L632.61 167.34 L630.74 168.51 L632.86 169.01 L631.11 170.16 L633.22 170.67 L631.43 171.82 L632.50 172.50 L633.53 173.17 L631.85 174.34 L633.98 174.81 L632.18 176.00 L634.25 176.49 L632.52 177.66 L634.47 178.17 L632.63 179.36 L634.68 179.85 L632.94 181.02 L634.98 181.52 L633.27 182.69 L635.36 183.17 L633.60 184.35 L634.75 185.00 L634.70 184.14 L635.17 183.36 L634.96 182.47 L635.41 181.69 L635.19 180.81 L635.67 180.02 L635.45 179.14 L635.96 178.36 L635.67 177.47 L636.19 176.69 L635.96 175.81 L636.25 175.00 L636.47 174.18 L636.13 173.32 L636.60 172.51 L636.26 171.65 L636.72 170.85 L636.36 169.99 L636.82 169.18 L636.47 168.32 L636.91 167.51 L636.58 166.65 L637.04 165.85 L636.88 165.00 L636.98 164.09 L637.67 163.40 L637.65 162.44 L638.33 161.74 L638.27 160.77 L638.75 160.00 L639.04 159.19 L638.74 158.32 L639.20 157.52 L638.90 156.65 L639.33 155.85 L639.08 154.98 L639.51 154.18 L639.23 153.31 L639.69 152.52 L639.40 151.65 L639.86 150.85 L639.58 149.98 L640.03 149.19 L639.71 148.31 L640.00 147.50 L640.36 146.64 L640.17 145.68 L640.70 144.86 L640.55 143.90 L641.07 143.07 L640.89 142.11 L641.25 141.25 L641.78 140.54 L641.83 139.61 L642.55 138.99 L642.75 138.12 L643.99 138.66 L642.44 140.23 L644.63 140.41 L643.23 141.93 L644.38 142.50 L645.49 143.09 L643.94 144.42 L646.02 144.73 L644.41 146.09 L646.45 146.41 L644.76 147.79 L647.00 148.06 L645.22 149.46 L646.50 150.00 L645.77 149.03 L647.77 148.50 L645.96 147.35 L647.94 146.81 L646.35 145.70 L648.37 145.17 L646.63 144.03 L648.62 143.50 L646.80 142.35 L648.90 141.84 L647.17 140.70 L648.12 140.00 L647.56 141.02 L649.49 141.29 L647.88 142.63 L650.02 142.84 L648.43 144.17 L650.49 144.40 L648.87 145.74 L650.00 146.25 L650.84 145.48 L651.88 145.00 L652.07 144.18 L651.75 143.34 L652.16 142.53 L651.79 141.69 L652.20 140.88 L651.85 140.04 L652.27 139.23 L651.86 138.39 L652.27 137.58 L651.95 136.74 L652.36 135.93 L651.99 135.09 L652.37 134.28 L652.03 133.44 L652.42 132.63 L652.11 131.79 L652.50 130.98 L652.11 130.14 L652.53 129.33 L652.16 128.49 L652.60 127.68 L652.21 126.84 L652.63 126.03 L652.29 125.19 L652.50 124.38 L651.84 125.49 L653.88 125.70 L652.44 127.07 L654.39 127.32 L652.84 128.73 L655.01 128.89 L654.38 130.00 L653.62 130.94 L655.65 131.53 L653.81 132.61 L655.62 133.23 L653.94 134.29 L656.00 134.88 L654.14 135.95 L656.21 136.54 L654.38 137.62 L656.46 138.20 L654.53 139.29 L655.62 140.00 L655.49 139.19 L655.93 138.40 L655.59 137.58 L655.99 136.80 L655.65 135.97 L656.11 135.19 L655.75 134.36 L656.16 133.58 L655.83 132.76 L656.28 131.98 L655.93 131.15 L656.35 130.37 L656.00 129.54 L656.45 128.76 L656.08 127.93 L656.51 127.15 L656.17 126.33 L656.60 125.55 L656.29 124.72 L656.73 123.94 L656.37 123.11 L656.82 122.33 L656.45 121.51 L656.90 120.73 L656.56 119.90 L656.98 119.12 L656.64 118.29 L656.88 117.50 L657.22 116.68 L657.01 115.76 L657.56 114.99 L657.31 114.06 L657.88 113.29 L657.68 112.37 L658.20 111.58 L658.00 110.67 L658.51 109.88 L658.50 109.00 L659.63 109.63 L658.04 110.94 L660.15 111.32 L658.44 112.66 L660.61 113.03 L658.90 114.36 L660.00 115.00 L661.40 115.34 L660.06 117.05 L661.25 117.50 L662.34 118.20 L660.59 119.24 L662.42 119.85 L660.60 120.89 L662.70 121.47 L660.91 122.51 L662.76 123.12 L660.96 124.16 L663.11 124.74 L661.38 125.77 L663.23 126.38 L661.45 127.42 L662.50 128.12 L665.00 127.50 L664.36 126.51 L666.19 126.08 L664.56 124.87 L666.76 124.52 L665.00 123.28 L666.89 122.86 L666.25 121.88 L667.50 122.13 L666.18 123.85 L668.40 123.55 L667.01 125.31 L669.23 125.01 L668.75 126.25 L667.97 127.33 L669.99 127.71 L668.39 129.00 L670.64 129.32 L668.86 130.65 L670.87 131.03 L669.18 132.34 L671.42 132.67 L670.62 133.75 L671.85 133.26 L670.47 131.79 L672.44 131.58 L671.00 130.09 L673.15 129.94 L672.50 128.75 L673.82 128.19 L673.74 130.44 L675.00 130.00 L674.16 129.03 L676.19 128.41 L674.33 127.32 L676.42 126.71 L674.64 125.62 L676.56 124.99 L674.69 123.89 L676.81 123.29 L675.01 122.20 L676.90 121.56 L675.28 120.50 L676.25 119.75 L675.77 120.91 L677.89 121.14 L676.27 122.70 L678.46 122.91 L676.86 124.47 L678.12 125.00 L680.00 125.00 L681.13 125.65 L679.47 126.82 L681.40 127.33 L679.73 128.50 L681.59 129.01 L679.99 130.18 L682.15 130.63 L680.18 131.87 L682.25 132.34 L680.54 133.53 L682.54 134.01 L681.88 135.00 L682.27 134.27 L682.18 133.39 L682.75 132.71 L682.65 131.83 L683.22 131.14 L683.12 130.26 L683.71 129.59 L683.75 128.75 L683.57 127.91 L684.01 127.09 L683.69 126.24 L684.07 125.42 L683.75 124.58 L684.18 123.76 L683.80 122.91 L684.20 122.09 L683.87 121.24 L684.28 120.42 L683.93 119.58 L684.36 118.76 L684.00 117.91 L684.45 117.09 L684.08 116.24 L684.48 115.42 L684.15 114.58 L684.38 113.75 L686.88 114.38 L686.18 115.52 L688.22 115.88 L686.61 117.29 L688.85 117.60 L688.12 118.75 L688.59 120.09 L690.00 120.00 L689.04 119.08 L691.17 118.42 L689.22 117.42 L691.24 116.75 L689.39 115.75 L691.27 115.07 L689.65 114.10 L691.60 113.42 L689.69 112.42 L691.67 111.75 L689.77 110.75 L691.90 110.09 L689.90 109.08 L691.92 108.41 L690.08 107.42 L692.00 106.74 L690.12 105.74 L691.25 105.00 L691.19 105.87 L691.69 106.64 L691.46 107.53 L692.02 108.30 L691.73 109.20 L692.28 109.97 L692.03 110.87 L692.58 111.63 L692.50 112.50 L692.36 113.33 L692.81 114.12 L692.48 114.96 L692.98 115.74 L692.64 116.59 L693.08 117.38 L692.76 118.22 L693.19 119.01 L692.88 119.85 L693.33 120.64 L693.01 121.48 L693.47 122.27 L693.17 123.11 L693.62 123.90 L693.26 124.75 L693.73 125.53 L693.39 126.38 L693.85 127.16 L693.55 128.00 L693.99 128.79 L693.67 129.64 L694.12 130.42 L694.00 131.25 L694.22 130.46 L693.88 129.64 L694.31 128.86 L693.96 128.04 L694.39 127.26 L694.05 126.44 L694.47 125.66 L694.11 124.84 L694.56 124.06 L694.22 123.24 L694.63 122.46 L694.31 121.64 L694.73 120.86 L694.34 120.04 L694.81 119.26 L694.43 118.44 L694.85 117.66 L694.54 116.84 L694.93 116.06 L694.63 115.24 L695.03 114.46 L694.69 113.64 L695.13 112.86 L694.75 112.04 L695.00 111.25 L696.88 111.25 L696.07 112.17 L698.10 112.81 L696.06 113.86 L698.20 114.48 L696.26 115.52 L698.46 116.14 L696.49 117.18 L698.40 117.83 L696.75 118.84 L698.69 119.48 L696.78 120.52 L698.80 121.16 L697.05 122.17 L699.07 122.81 L698.12 123.75 L699.21 123.00 L697.20 122.00 L699.33 121.33 L697.40 120.33 L699.43 119.66 L697.61 118.67 L699.60 118.00 L697.69 117.00 L698.75 116.25 L697.96 117.15 L699.85 117.76 L698.17 118.75 L700.11 119.35 L698.34 120.36 L700.24 120.97 L698.29 122.00 L700.53 122.56 L698.53 123.60 L700.69 124.17 L698.72 125.20 L700.91 125.77 L699.04 126.79 L700.00 127.50 L701.10 128.21 L699.28 129.28 L701.23 129.89 L699.34 130.97 L701.56 131.54 L699.72 132.61 L701.70 133.21 L699.83 134.29 L701.91 134.88 L700.12 135.95 L701.98 136.56 L701.25 137.50 L700.59 138.76 L702.85 139.05 L701.31 140.61 L702.50 141.25 L703.60 141.79 L702.34 143.21 L704.39 143.39 L702.79 144.94 L705.06 145.04 L704.38 146.25 L705.62 146.88 L706.77 146.36 L705.22 144.96 L707.39 144.78 L705.72 143.34 L708.00 143.20 L706.35 141.76 L707.50 141.25 L706.88 142.43 L709.12 142.54 L707.44 144.12 L709.57 144.27 L708.23 145.73 L709.38 146.25 L710.48 146.86 L708.92 148.13 L710.86 148.53 L709.17 149.84 L711.38 150.18 L710.62 151.25 L710.35 152.54 L712.42 151.88 L711.54 153.66 L713.44 153.14 L712.55 154.94 L713.75 155.00 L714.71 155.79 L712.82 156.77 L714.86 157.49 L712.99 158.47 L714.93 159.20 L713.27 160.17 L715.03 160.91 L713.35 161.87 L715.34 162.60 L713.24 163.59 L714.38 164.38 L714.25 163.56 L714.73 162.80 L714.40 161.96 L714.86 161.20 L714.54 160.37 L714.99 159.60 L714.68 158.77 L715.11 158.00 L714.80 157.17 L715.25 156.40 L714.94 155.57 L715.43 154.81 L715.06 153.97 L715.52 153.21 L715.25 152.38 L715.68 151.61 L715.34 150.78 L715.62 150.00 L715.88 149.19 L715.52 148.34 L715.98 147.54 L715.64 146.69 L716.07 145.89 L715.73 145.05 L716.19 144.25 L715.83 143.40 L716.26 142.60 L715.96 141.75 L716.36 140.95 L716.07 140.11 L716.48 139.31 L716.14 138.46 L716.61 137.66 L716.24 136.81 L716.50 136.00 L716.08 137.29 L718.25 137.12 L717.09 138.83 L719.19 138.70 L718.75 140.00 L718.04 141.07 L720.09 141.59 L718.33 142.87 L720.40 143.38 L718.64 144.66 L720.67 145.19 L720.00 146.25 L721.11 145.60 L719.50 144.42 L721.42 143.93 L719.72 142.73 L721.86 142.29 L720.12 141.07 L722.15 140.61 L720.29 139.38 L721.50 138.75 L720.71 139.67 L722.51 140.33 L720.74 141.35 L722.70 142.00 L721.06 143.00 L722.90 143.66 L721.09 144.68 L723.13 145.32 L721.35 146.34 L723.17 147.00 L721.39 148.02 L722.50 148.75 L723.55 149.45 L721.94 150.63 L723.93 151.15 L722.19 152.36 L724.12 152.90 L722.57 154.06 L724.65 154.57 L723.75 155.62 L725.08 155.16 L723.71 153.54 L725.70 153.35 L724.42 151.77 L725.62 151.25 L727.50 151.25 L728.63 150.69 L726.84 149.44 L729.01 149.13 L727.43 147.93 L729.49 147.60 L727.79 146.36 L729.74 146.00 L729.00 145.00 L730.17 145.62 L728.38 146.88 L730.43 147.31 L728.76 148.54 L730.87 148.96 L729.26 150.18 L731.31 150.61 L729.53 151.86 L730.62 152.50 L731.79 153.04 L730.26 154.46 L732.44 154.68 L730.82 156.12 L733.01 156.33 L732.25 157.50 L731.44 158.49 L733.54 159.00 L731.64 160.17 L733.64 160.69 L731.98 161.83 L733.94 162.36 L732.32 163.48 L734.31 164.01 L733.50 165.00 L747.50 165.25 L756.88 166.00 L757.64 165.68 L758.12 165.00 L763.75 165.00 L763.60 163.60 L765.00 163.75 L764.18 164.73 L766.09 165.44 L764.29 166.53 L766.24 167.23 L764.36 168.32 L766.62 169.00 L765.62 170.00 L765.43 171.49 L766.88 171.88 L771.25 171.88 L772.44 172.55 L770.64 173.76 L772.64 174.29 L770.97 175.48 L773.08 175.98 L771.16 177.22 L773.16 177.74 L772.50 178.75 L772.51 179.99 L774.43 179.32 L773.69 181.31 L775.00 181.25 L776.10 181.73 L775.79 183.26 L776.88 183.75 L777.52 182.69 L778.75 182.50 L785.00 182.50 L784.23 183.44 L786.28 184.03 L784.31 185.12 L786.34 185.72 L784.62 186.78 L785.62 187.50 L785.02 186.46 L786.88 186.04 L785.22 184.74 L787.36 184.39 L785.71 183.09 L786.88 182.50 L787.31 183.70 L789.01 182.40 L789.38 183.75 L790.61 183.74 L789.99 181.87 L791.25 181.88 L790.57 182.84 L792.35 183.40 L790.80 184.52 L792.78 185.05 L790.92 186.21 L792.95 186.73 L791.35 187.85 L793.22 188.40 L792.50 189.38 L793.61 188.68 L791.69 187.50 L793.87 186.97 L792.23 185.83 L794.19 185.28 L792.44 184.12 L794.28 183.54 L792.57 182.39 L794.56 181.84 L793.01 180.72 L794.00 180.00 L795.31 179.47 L793.53 177.97 L795.68 177.70 L794.18 176.29 L796.18 175.98 L794.67 174.56 L795.88 174.00 L795.46 175.23 L797.47 175.18 L796.34 176.79 L798.47 176.68 L797.18 178.37 L798.38 178.75 L799.45 179.28 L798.02 180.56 L800.06 180.80 L798.31 182.18 L800.48 182.38 L798.96 183.68 L800.87 183.96 L800.25 185.00 L799.92 186.30 L801.97 186.33 L800.85 188.06 L802.12 188.50 L801.42 187.45 L803.49 187.02 L801.86 185.77 L803.72 185.29 L802.05 184.03 L804.11 183.59 L802.48 182.34 L804.57 181.91 L802.87 180.64 L804.00 180.00 L805.28 179.43 L803.59 178.04 L805.51 177.64 L804.12 176.34 L806.22 175.99 L804.47 174.59 L806.51 174.22 L805.88 173.12 L807.01 173.74 L805.49 175.08 L807.55 175.44 L805.98 176.79 L808.00 177.16 L806.29 178.55 L808.38 178.90 L807.75 180.00 L809.10 179.74 L807.68 178.09 L809.86 178.24 L808.42 176.59 L809.62 176.25 L809.03 177.49 L811.23 177.80 L809.60 179.38 L810.88 180.00 L811.88 180.73 L810.34 181.96 L812.34 182.49 L810.68 183.75 L812.71 184.28 L811.10 185.53 L812.12 186.25 L813.37 186.73 L811.82 188.14 L813.85 188.35 L812.23 189.79 L814.29 189.99 L812.78 191.39 L814.00 191.88 L813.90 190.52 L815.87 191.24 L815.88 190.00 L815.34 188.74 L817.52 188.64 L816.00 186.95 L818.34 186.91 L817.75 185.62 L818.87 186.23 L817.18 187.54 L819.28 187.90 L817.72 189.17 L819.65 189.58 L819.00 190.62 L820.18 190.10 L818.87 188.50 L821.01 188.38 L819.73 186.80 L820.88 186.25 L823.38 186.25 L823.57 185.44 L823.25 184.61 L823.64 183.81 L823.30 182.98 L823.68 182.18 L823.37 181.35 L823.75 180.55 L823.41 179.72 L823.80 178.92 L823.44 178.09 L823.84 177.29 L823.50 176.46 L823.93 175.66 L823.59 174.83 L823.98 174.03 L823.64 173.20 L824.01 172.40 L823.69 171.57 L824.09 170.77 L823.75 169.94 L824.13 169.14 L823.79 168.31 L824.00 167.50 L824.24 166.68 L823.87 165.82 L824.31 165.01 L823.92 164.16 L824.37 163.34 L824.04 162.49 L824.46 161.68 L824.11 160.83 L824.53 160.01 L824.14 159.16 L824.56 158.34 L824.23 157.49 L824.65 156.67 L824.30 155.83 L824.73 155.01 L824.39 154.16 L824.79 153.34 L824.62 152.50 L825.67 153.12 L824.13 154.39 L826.25 154.75 L824.44 156.09 L826.50 156.46 L825.88 157.50 L826.12 156.68 L825.79 155.82 L826.21 155.01 L825.86 154.16 L826.26 153.34 L825.93 152.49 L826.33 151.67 L826.00 150.82 L826.47 150.01 L826.07 149.16 L826.52 148.34 L826.20 147.49 L826.63 146.68 L826.24 145.82 L826.50 145.00 L826.75 144.18 L826.35 143.32 L826.80 142.51 L826.47 141.66 L826.88 140.84 L826.49 139.99 L826.92 139.17 L826.60 138.33 L826.99 137.51 L826.64 136.66 L827.08 135.84 L826.75 134.99 L827.15 134.17 L826.80 133.33 L827.23 132.51 L826.86 131.66 L827.27 130.84 L827.12 130.00 L826.95 129.19 L827.29 128.38 L826.92 127.56 L827.32 126.75 L826.94 125.94 L827.34 125.12 L826.96 124.31 L827.12 123.50 L827.37 122.69 L827.01 121.86 L827.42 121.05 L827.07 120.22 L827.45 119.41 L827.12 118.58 L827.54 117.77 L827.16 116.94 L827.60 116.14 L827.25 115.30 L827.67 114.50 L827.32 113.67 L827.69 112.86 L827.33 112.03 L827.77 111.22 L827.40 110.39 L827.84 109.58 L827.49 108.75 L827.88 107.95 L827.52 107.11 L827.95 106.31 L827.58 105.48 L828.03 104.67 L827.66 103.84 L828.09 103.03 L827.71 102.20 L828.16 101.40 L827.78 100.56 L828.00 99.75 L828.26 98.93 L827.89 98.07 L828.33 97.26 L827.96 96.41 L828.42 95.59 L828.06 94.74 L828.46 93.93 L828.17 93.08 L828.59 92.26 L828.24 91.41 L828.67 90.59 L828.31 89.74 L828.73 88.93 L828.37 88.07 L828.82 87.26 L828.50 86.41 L828.92 85.59 L828.75 84.75 L828.78 83.88 L829.33 83.13 L829.13 82.20 L829.71 81.46 L829.51 80.53 L830.08 79.79 L829.93 78.88 L830.51 78.13 L830.50 77.25 L830.80 78.02 L830.49 78.86 L830.95 79.62 L830.69 80.45 L831.16 81.20 L830.87 82.04 L831.34 82.80 L831.04 83.63 L831.52 84.39 L831.24 85.22 L831.50 86.00 L831.74 86.79 L831.38 87.62 L831.82 88.40 L831.48 89.23 L831.90 90.01 L831.55 90.83 L832.02 91.61 L831.68 92.44 L832.12 93.22 L831.73 94.05 L832.19 94.83 L831.82 95.65 L832.29 96.43 L832.12 97.25 L832.04 98.09 L832.58 98.84 L832.33 99.71 L832.80 100.47 L832.55 101.34 L833.08 102.09 L832.83 102.96 L833.31 103.72 L833.07 104.59 L833.38 105.38 L832.40 104.42 L834.49 103.78 L832.62 102.72 L834.74 102.09 L832.91 101.04 L835.00 100.40 L832.95 99.33 L834.99 98.68 L833.25 97.64 L835.13 96.98 L833.28 95.93 L835.32 95.29 L833.45 94.23 L834.62 93.50 L835.79 93.11 L834.36 91.60 L836.44 91.62 L834.99 90.09 L836.25 89.75 L836.12 90.60 L836.61 91.40 L836.28 92.27 L836.72 93.07 L836.41 93.93 L836.85 94.74 L836.56 95.60 L837.00 96.40 L836.69 97.27 L837.19 98.06 L836.85 98.93 L837.12 99.75 L837.38 100.58 L837.08 101.46 L837.49 102.28 L837.16 103.16 L837.60 103.98 L837.32 104.85 L837.73 105.68 L837.43 106.55 L837.89 107.37 L837.58 108.24 L837.98 109.07 L837.69 109.94 L838.14 110.76 L838.00 111.62 L839.11 110.96 L837.53 109.68 L839.42 109.19 L837.78 107.89 L839.00 107.25 L840.50 106.62" fill="none" stroke="#1f77b4" stroke-width="2.917" stroke-linejoin="round" stroke-linecap="square" clip-path="url(#ax)"/>
<g fill="#383838" shape-rendering="crispEdges">
<rect x="98" y="51" width="2" height="540"/>
<rect x="874" y="51" width="2" height="540"/>
<rect x="98" y="51" width="778" height="2"/>
<rect x="98" y="589" width="778" height="2"/>
<rect x="133" y="591" width="2" height="6"/>
<rect x="231" y="591" width="2" height="6"/>
<rect x="329" y="591" width="2" height="6"/>
<rect x="427" y="591" width="2" height="6"/>
<rect x="525" y="591" width="2" height="6"/>
<rect x="623" y="591" width="2" height="6"/>
<rect x="721" y="591" width="2" height="6"/>
<rect x="819" y="591" width="2" height="6"/>
<rect x="92" y="575" width="6" height="2"/>
<rect x="92" y="510" width="6" height="2"/>
<rect x="92" y="446" width="6" height="2"/>
<rect x="92" y="381" width="6" height="2"/>
<rect x="92" y="317" width="6" height="2"/>
<rect x="92" y="253" width="6" height="2"/>
<rect x="92" y="188" width="6" height="2"/>
<rect x="92" y="124" width="6" height="2"/>
<rect x="92" y="60" width="6" height="2"/>
</g>
<text class="t10 tk" text-anchor="middle" x="133.57" y="619.00">0</text>
<text class="t10 tk" text-anchor="middle" x="231.66" y="619.00">2000</text>
<text class="t10 tk" text-anchor="middle" x="331.25" y="619.00">4000</text>
<text class="t10 tk" text-anchor="middle" x="427.73" y="619.00">6000</text>
<text class="t10 tk" text-anchor="middle" x="526.22" y="619.00">8000</text>
<text class="t10 tk" text-anchor="middle" x="624.51" y="619.00">10000</text>
<text class="t10 tk" text-anchor="middle" x="721.69" y="619.00">12000</text>
<text class="t10 tk" text-anchor="middle" x="819.68" y="619.00">14000</text>
<text class="t10 tk" text-anchor="end" x="84.59" y="583.00">60</text>
<text class="t10 tk" text-anchor="end" x="84.59" y="519.00">65</text>
<text class="t10 tk" text-anchor="end" x="84.59" y="454.00">70</text>
<text class="t10 tk" text-anchor="end" x="84.59" y="390.00">75</text>
<text class="t10 tk" text-anchor="end" x="84.59" y="326.00">80</text>
<text class="t10 tk" text-anchor="end" x="84.59" y="261.00">85</text>
<text class="t10 tk" text-anchor="end" x="84.59" y="197.00">90</text>
<text class="t10 tk" text-anchor="end" x="84.59" y="132.00">95</text>
<text class="t10 tk" text-anchor="end" x="84.59" y="68.00">100</text>
<text class="t10" text-anchor="middle" x="487.00" y="646.00">Trade #</text>
<text class="t10" text-anchor="middle" x="37.75" y="323.90" transform="rotate(-90 37.75 323.90)">Equity</text>
<text class="t12" text-anchor="middle" x="486.90" y="41.00" letter-spacing="0.04">Equity vs Trade #</text>
<rect x="109.00" y="62.00" width="478.00" height="36.00" rx="3.89" ry="3.89" fill="#ffffff" stroke="#cccccc" stroke-width="2.000" opacity="0.8"/>
<path d="M116.50 78.50 L155.39 78.50" stroke="#1f77b4" stroke-width="2.917" stroke-linecap="square" fill="none"/>
<text class="t10" text-anchor="start" x="170.94" y="85.00" letter-spacing="0.05">cfg_merged.yaml | TF: 1440 | bars: 14400</text>
</svg>
</body></html>
